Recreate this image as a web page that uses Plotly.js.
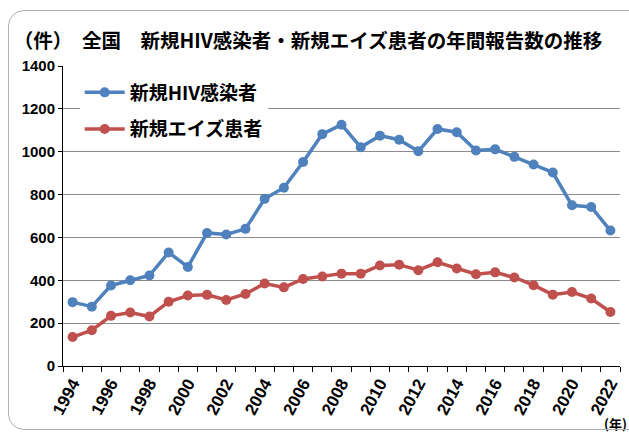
<!DOCTYPE html>
<html>
<head>
<meta charset="utf-8">
<script src="https://cdn.plot.ly/plotly-3.0.1.min.js"></script>
<style>
  html, body { margin: 0; padding: 0; background: #fff; }
  #wrap { position: relative; width: 629px; height: 434px; overflow: hidden; }
  #chart { position: absolute; left: 0; top: 0; width: 629px; height: 434px; }
  #frame { position: absolute; left: 8px; top: 10px; width: 660px; height: 418px;
           border: 1px solid #b0b0b0; border-radius: 16px; pointer-events: none; }
</style>
</head>
<body>
<div id="wrap">
  <div id="chart"></div>
  <div id="frame"></div>
</div>
<script>
const years = [1994,1995,1996,1997,1998,1999,2000,2001,2002,2003,2004,2005,2006,2007,2008,2009,2010,2011,2012,2013,2014,2015,2016,2017,2018,2019,2020,2021,2022];
const hivInfections = [298,277,376,400,422,530,462,621,614,640,780,832,952,1082,1126,1021,1075,1056,1002,1106,1091,1006,1011,976,940,903,750,742,632];
const aidsPatients = [135,167,234,250,231,300,329,332,308,336,385,367,406,418,431,431,469,473,447,484,455,428,437,413,377,333,345,315,252];
const xTickLabels = ['1994','1996','1998','2000','2002','2004','2006','2008','2010','2012','2014','2016','2018','2020','2022'];
const seriesNames = ['新規HIV感染者','新規エイズ患者'];
const chartTitle = '（件）　全国　新規HIV感染者・新規エイズ患者の年間報告数の推移';
const yearUnit = '(年)';

const numFamily = 'Liberation Sans, Arial, sans-serif';
const jpFont = 'Noto Sans CJK JP, sans-serif';

const traces = [
  {x: years, y: hivInfections, name: seriesNames[0], type: 'scatter', mode: 'lines+markers',
   legendgroup: 'a',
   line: {color: '#4F81BD', width: 3.5}, marker: {color: '#4F81BD', size: 10}},
  {x: years, y: aidsPatients, name: seriesNames[1], type: 'scatter', mode: 'lines+markers',
   legendgroup: 'b',
   line: {color: '#C0504D', width: 3.5}, marker: {color: '#C0504D', size: 10}}
];

const layout = {
  width: 629, height: 434,
  margin: {l: 63, r: 9, t: 66, b: 68},
  paper_bgcolor: '#fff', plot_bgcolor: '#fff',
  title: {text: chartTitle, font: {family: jpFont, size: 19.5, color: '#000', weight: 'bold'},
          xref: 'container', x: 0.022, xanchor: 'left', yref: 'container', y: 0.905, yanchor: 'middle'},
  showlegend: true,
  legend: {x: 0.03, y: 0.975, xanchor: 'left', yanchor: 'top', bgcolor: '#fff',
           font: {family: jpFont, size: 19, color: '#000', weight: 'bold'},
           tracegroupgap: 9, itemwidth: 40},
  xaxis: {type: 'linear', range: [1993.5, 2022.5], tickvals: xTickLabels.map(Number), ticktext: xTickLabels,
          tickangle: -62, ticks: 'outside', ticklen: 0, showgrid: false, zeroline: false,
          showline: true, linecolor: '#000', linewidth: 1,
          tickfont: {family: numFamily, size: 17, color: '#000', weight: 'bold'},
          minor: {tick0: 1993.5, dtick: 1, ticks: 'outside', ticklen: 5, tickcolor: '#000', showgrid: false}},
  yaxis: {range: [0, 1400], dtick: 200, ticks: 'outside', ticklen: 4, tickcolor: '#000',
          showline: true, linecolor: '#000', linewidth: 1, zeroline: false,
          showgrid: true, gridcolor: '#8c8c8c', gridwidth: 1,
          tickfont: {family: numFamily, size: 15, color: '#000', weight: 'bold'}},
  annotations: [
    {text: yearUnit, xref: 'paper', yref: 'paper', x: 1.016, y: -0.19, xanchor: 'right', yanchor: 'middle',
     showarrow: false, font: {family: jpFont, size: 13, color: '#000', weight: 'bold'}}
  ]
};

Plotly.newPlot('chart', traces, layout, {displayModeBar: false, staticPlot: true});
</script>
</body>
</html>
